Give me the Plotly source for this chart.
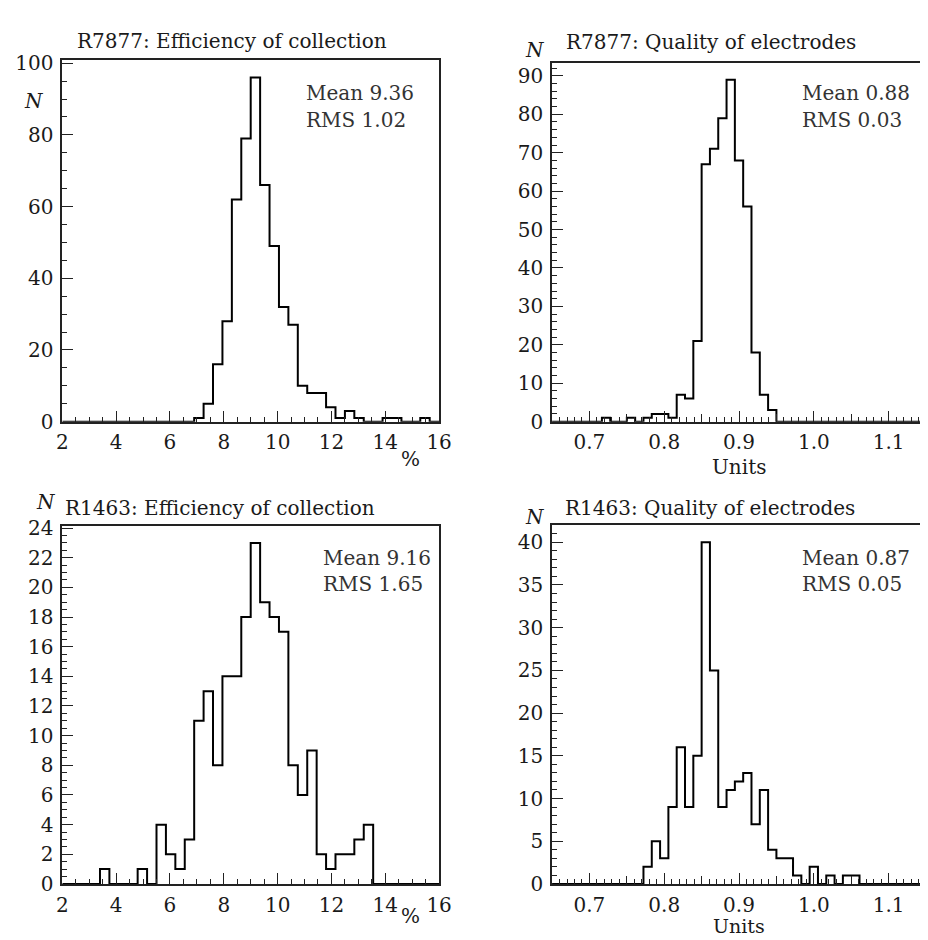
import plotly.graph_objects as go

# ---------------- data ----------------
eff_range = (2.0, 16.0)      # 40 bins
qual_range = (0.65, 1.15)    # 45 bins

r7877_eff = [0, 0, 0, 0, 0, 0, 0, 0, 0, 0, 0, 0, 0, 0, 1, 5, 16, 28, 62, 79,
             96, 66, 49, 32, 27, 10, 8, 8, 4, 1, 3, 1, 0, 0, 1, 1, 0, 0, 1, 0]
r7877_qual = [0, 0, 0, 0, 0, 0, 1, 0, 0, 1, 0, 1, 2, 2, 1, 7, 6, 21, 67, 71,
              79, 89, 68, 56, 18, 7, 3, 0, 0, 0, 0, 0, 0, 0, 0, 0, 0, 0, 0, 0,
              0, 0, 0, 0, 0]
r1463_eff = [0, 0, 0, 0, 1, 0, 0, 0, 1, 0, 4, 2, 1, 3, 11, 13, 8, 14, 14, 18,
             23, 19, 18, 17, 8, 6, 9, 2, 1, 2, 2, 3, 4, 0, 0, 0, 0, 0, 0, 0]
r1463_qual = [0, 0, 0, 0, 0, 0, 0, 0, 0, 0, 0, 2, 5, 3, 9, 16, 9, 15, 40, 25,
              9, 11, 12, 13, 7, 11, 4, 3, 3, 1, 0, 2, 0, 1, 0, 1, 1, 0, 0, 0,
              0, 0, 0, 0, 0]

titles = ["R7877: Efficiency of collection", "R7877: Quality of electrodes",
          "R1463: Efficiency of collection", "R1463: Quality of electrodes"]
mean_labels = ["Mean 9.36", "Mean 0.88", "Mean 9.16", "Mean 0.87"]
rms_labels = ["RMS 1.02", "RMS 0.03", "RMS 1.65", "RMS 0.05"]
x_titles = ["%", "Units", "%", "Units"]

# ---------------- figure ----------------
W, H = 928, 940
FONT = "DejaVu Serif"
TXT = "#1a1a1a"
LINE = "#222222"


def px(x):
    """pixel x -> paper fraction"""
    return x / W


def py(y):
    """pixel y (from top) -> paper fraction"""
    return 1 - y / H


def edges(rng, n):
    lo, hi = rng
    w = (hi - lo) / n
    return [lo + i * w for i in range(n + 1)]


hists = [(r7877_eff, eff_range), (r7877_qual, qual_range),
         (r1463_eff, eff_range), (r1463_qual, qual_range)]

fig = go.Figure()
for i, (counts, rng) in enumerate(hists):
    e = edges(rng, len(counts))
    sfx = "" if i == 0 else str(i + 1)
    fig.add_trace(go.Scatter(
        x=e, y=list(counts) + [counts[-1]], mode="lines",
        line=dict(shape="hv", color="black", width=2),
        xaxis="x" + sfx, yaxis="y" + sfx, showlegend=False, hoverinfo="skip"))

# empty traces so that the medium-tick overlay axes get drawn
fig.add_trace(go.Scatter(x=[], y=[], xaxis="x5", yaxis="y2", showlegend=False))
fig.add_trace(go.Scatter(x=[], y=[], xaxis="x6", yaxis="y4", showlegend=False))

# pixel geometry of the plot frames (left, right, top, bottom)
frames = [(49.3, 434.0, 43.3, 413.3), (549.3, 928.0, 45.7, 413.3),
          (49.3, 434.0, 520.0, 886.7), (549.3, 928.0, 519.3, 886.7)]

tickfont = dict(family=FONT, size=20, color=TXT)


def xax(i, rng, dtick, minor, fmt=None):
    l, r, t, b = frames[i]
    d = dict(domain=[px(l), min(1.0, px(r))],
             anchor="y" + ("" if i == 0 else str(i + 1)),
             range=list(rng), tick0=0, dtick=dtick, ticks="inside", ticklen=11,
             tickwidth=1.2, tickcolor=LINE,
             minor=dict(dtick=minor, ticks="inside", ticklen=5, tickwidth=1.1,
                        tickcolor=LINE, showgrid=False),
             showline=True, mirror=True, linecolor=LINE, linewidth=1.6,
             showgrid=False, zeroline=False, tickfont=tickfont,
             ticklabelstandoff=2)
    if fmt:
        d["tickformat"] = fmt
    return d


def yax(i, top, dtick, minor, mirror):
    l, r, t, b = frames[i]
    return dict(domain=[py(b), py(t)], anchor="x" + ("" if i == 0 else str(i + 1)),
                range=[0, top], tick0=0, dtick=dtick, ticks="inside",
                ticklen=11, tickwidth=1.2, tickcolor=LINE,
                minor=dict(dtick=minor, ticks="inside", ticklen=5,
                           tickwidth=1.1, tickcolor=LINE, showgrid=False),
                showline=True, mirror=mirror, linecolor=LINE, linewidth=1.6,
                showgrid=False, zeroline=False, tickfont=tickfont,
                ticklabelstandoff=3)


q_view = [qual_range[0], 1.146]

layout = dict(
    width=W, height=H, margin=dict(l=0, r=0, t=0, b=0),
    paper_bgcolor="white", plot_bgcolor="white", showlegend=False,
    xaxis=xax(0, eff_range, 2, 0.5),
    yaxis=yax(0, 1.05 * max(r7877_eff), 20, 5, True),
    xaxis2=xax(1, q_view, 0.1, 0.01, ".1f"),
    yaxis2=yax(1, 1.05 * max(r7877_qual), 10, 2, False),
    xaxis3=xax(2, eff_range, 2, 0.5),
    yaxis3=yax(2, 1.05 * max(r1463_eff), 2, 0.5, True),
    xaxis4=xax(3, q_view, 0.1, 0.01, ".1f"),
    yaxis4=yax(3, 1.05 * max(r1463_qual), 5, 1, False),
)
for name, over, anc in (("xaxis5", "x2", "y2"), ("xaxis6", "x4", "y4")):
    layout[name] = dict(overlaying=over, anchor=anc, range=q_view, tick0=0.05,
                        dtick=0.1, ticks="inside", ticklen=8, tickwidth=1.2,
                        tickcolor=LINE, showticklabels=False, showline=False,
                        showgrid=False, zeroline=False)
fig.update_layout(**layout)

ann = []
title_pos = [(62, 24), (562, 25), (50, 502), (560, 502)]
stat_pos = [(296, 77), (802, 77), (313, 553), (802, 553)]
n_pos = [(20, 85), (532, 33), (33, 496), (532, 511)]
xt_pos = [(405, 452), (740, 460), (405, 920), (740, 930)]
xt_size = [20, 20, 20, 19]
for i in range(4):
    tx, ty = title_pos[i]
    ann.append(dict(x=px(tx), y=py(ty), text=titles[i], xanchor="left",
                    yanchor="middle", font=dict(family=FONT, size=20, color=TXT)))
    sx, sy = stat_pos[i]
    ann.append(dict(x=px(sx), y=py(sy), text=mean_labels[i], xanchor="left",
                    yanchor="middle", font=dict(family=FONT, size=20, color="#333")))
    ann.append(dict(x=px(sx), y=py(sy + 27), text=rms_labels[i], xanchor="left",
                    yanchor="middle", font=dict(family=FONT, size=20, color="#333")))
    nx, ny = n_pos[i]
    ann.append(dict(x=px(nx), y=py(ny), text="<i>N</i>", xanchor="center",
                    yanchor="middle", font=dict(family=FONT, size=20, color=TXT)))
    xx, xy = xt_pos[i]
    ann.append(dict(x=px(xx), y=py(xy), text=x_titles[i], xanchor="center",
                    yanchor="middle",
                    font=dict(family=FONT, size=xt_size[i], color=TXT)))
for a in ann:
    a.update(xref="paper", yref="paper", showarrow=False)
fig.update_layout(annotations=ann)

fig.write_html("out.html")
